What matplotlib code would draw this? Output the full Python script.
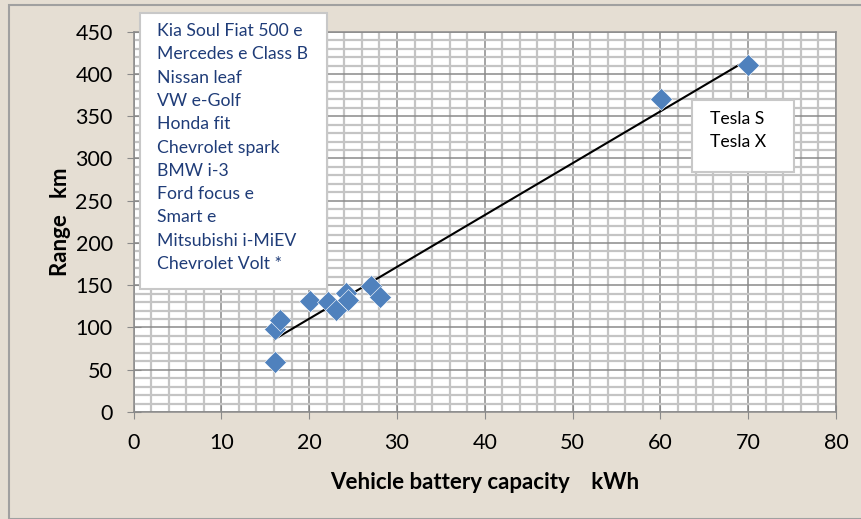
import numpy as np
import matplotlib.pyplot as plt
from matplotlib.patches import Rectangle
from matplotlib.ticker import MultipleLocator

# battery capacity (kWh) vs range (km)
capacity = [16.1, 16.1, 16.7, 20.1, 22.1, 23.1, 24.2, 24.4, 27.1, 28.1, 60.1, 70.0]
range_km = [59, 98, 109, 131, 130, 121, 141, 132, 149, 136, 370, 411]

cars = ["Kia Soul Fiat 500 e", "Mercedes e Class B", "Nissan leaf", "VW e-Golf",
        "Honda fit", "Chevrolet spark", "BMW i-3", "Ford focus e", "Smart e",
        "Mitsubishi i-MiEV", "Chevrolet Volt *"]
teslas = ["Tesla S", "Tesla X"]

W, H = 861, 519
bg = '#E5DED3'
font = 'Lato'

fig = plt.figure(figsize=(W / 100, H / 100), dpi=100, facecolor=bg)
fig.patches.append(Rectangle((9 / W, 0), 1, 1 - 5 / H, transform=fig.transFigure,
                             fill=False, edgecolor='#A0A0A0', linewidth=1.5))

ax = fig.add_axes([133.5 / W, 1 - 412 / H, (836 - 133.5) / W, (412 - 31.7) / H])
ax.set_facecolor('white')

ax.set_xlim(0, 80); ax.set_ylim(0, 450)
ax.xaxis.set_major_locator(MultipleLocator(10)); ax.xaxis.set_minor_locator(MultipleLocator(2))
ax.yaxis.set_major_locator(MultipleLocator(50)); ax.yaxis.set_minor_locator(MultipleLocator(10))
ax.grid(which='minor', color='#C4C4C4', linewidth=1.6)
ax.grid(which='major', color='#8A8A8A', linewidth=1.1)
ax.set_axisbelow(True)
for s in ax.spines.values():
    s.set_color('#8A8A8A'); s.set_linewidth(1.1)
ax.tick_params(which='major', length=10, direction='inout', color='#8A8A8A', labelsize=15.5, pad=10)
ax.tick_params(which='minor', length=0)
for lbl in ax.get_xticklabels() + ax.get_yticklabels():
    lbl.set_fontfamily(font)

# trend line
k, b = np.polyfit(capacity, range_km, 1)
xs = np.array([min(capacity), max(capacity)])
ax.plot(xs, k * xs + b, color='black', linewidth=1.5, zorder=3)
ax.plot(capacity, range_km, 'D', color='#4F81BD', markersize=11, zorder=4,
        markeredgecolor='white', markeredgewidth=0.4)

ax.set_xlabel("Vehicle battery capacity    kWh", fontsize=16, fontweight='bold', family=font, labelpad=14)
ax.set_ylabel("Range   km", fontsize=16, fontweight='bold', family=font, labelpad=3)

# text boxes
fig.patches.append(Rectangle((140 / W, 1 - 289 / H), (327 - 140) / W, (289 - 13) / H,
                             transform=fig.transFigure, facecolor='white',
                             edgecolor='#C8C8C8', linewidth=1.5, zorder=5))
for i, c in enumerate(cars):
    fig.text(157 / W, 1 - (31 + i * 23.3) / H, c, color='#1F3C78', fontsize=12.7,
             family=font, va='center', ha='left', zorder=6)

fig.patches.append(Rectangle((691.7 / W, 1 - 172 / H), (794 - 691.7) / W, (172 - 100) / H,
                             transform=fig.transFigure, facecolor='white',
                             edgecolor='#C8C8C8', linewidth=1.5, zorder=5))
for i, t in enumerate(teslas):
    fig.text(710 / W, 1 - (119 + i * 23) / H, t, color='black', fontsize=12.7,
             family=font, va='center', ha='left', zorder=6)

fig.savefig('out.png', dpi=100, facecolor=bg)
